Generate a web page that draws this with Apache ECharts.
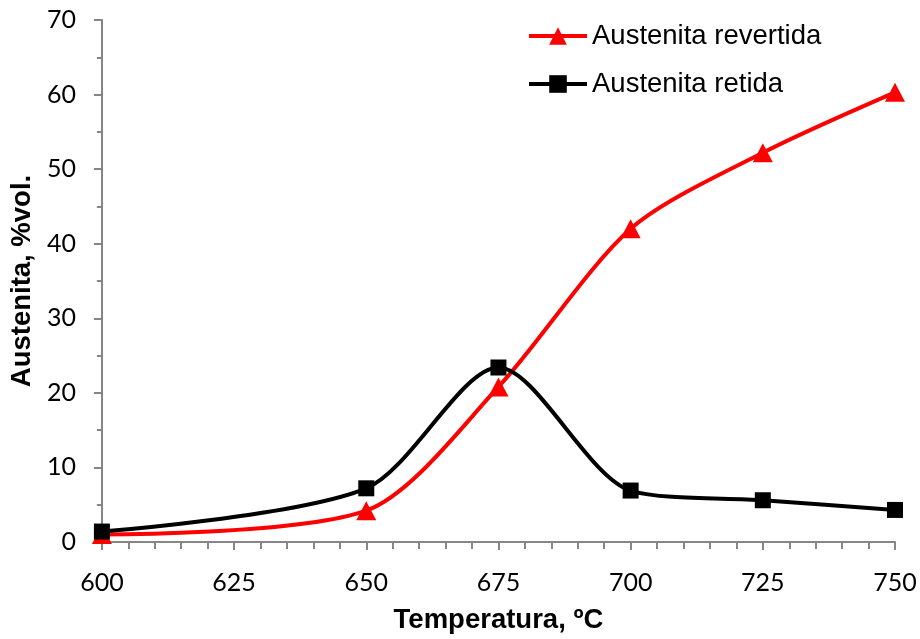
<!DOCTYPE html>
<html>
<head>
<meta charset="utf-8">
<title>Austenita vs Temperatura</title>
<script src="https://cdn.jsdelivr.net/npm/echarts@6/dist/echarts.min.js"></script>
<style>
  html, body { margin: 0; padding: 0; background: #ffffff; }
  #chart { width: 920px; height: 639px; }
</style>
</head>
<body>
<div id="chart"></div>
<script>
// Annealing temperatures (ºC)
var temperaturas = [600, 650, 675, 700, 725, 750];
// Reverted austenite, %vol.
var austenitaRevertida = [1.0, 4.2, 20.8, 42.0, 52.2, 60.3];
// Retained austenite, %vol.
var austenitaRetida = [1.4, 7.2, 23.4, 6.9, 5.6, 4.3];

var xTitle = 'Temperatura, ºC';
var yTitle = 'Austenita, %vol.';
var nomeRevertida = 'Austenita revertida';
var nomeRetida = 'Austenita retida';

function pares(xs, ys) {
  return xs.map(function (x, i) { return [x, ys[i]]; });
}

var axisGray = '#868686';
var tickFont = 'Lato, Calibri, "Open Sans", sans-serif';
var titleFont = '"Liberation Sans", Arial, sans-serif';
var curveSmooth = 0.28;

var chart = echarts.init(document.getElementById('chart'), null, { renderer: 'canvas' });

chart.setOption({
  animation: false,
  backgroundColor: '#ffffff',
  grid: { left: 101, right: 25, top: 20, bottom: 96, containLabel: false },
  legend: {
    left: 527,
    top: 22,
    padding: 0,
    orient: 'vertical',
    itemWidth: 58,
    itemHeight: 22,
    itemGap: 20,
    textStyle: { fontFamily: titleFont, fontSize: 27.5, color: '#000000' },
    data: [
      { name: nomeRevertida, lineStyle: { width: 4 }, itemStyle: { color: '#ff0000' } },
      { name: nomeRetida, lineStyle: { width: 4 }, itemStyle: { color: '#000000' } }
    ]
  },
  xAxis: {
    type: 'value',
    min: 600,
    max: 750,
    interval: 25,
    name: xTitle,
    nameLocation: 'middle',
    nameGap: 64,
    nameTextStyle: { fontFamily: titleFont, fontSize: 27.5, fontWeight: 'bold', color: '#000000' },
    axisLine: { show: true, onZero: false, lineStyle: { color: axisGray, width: 2 } },
    axisTick: { show: true, inside: false, length: 8, lineStyle: { color: axisGray, width: 2 } },
    minorTick: { show: true, splitNumber: 5, length: 7, lineStyle: { color: axisGray, width: 2 } },
    axisLabel: { fontFamily: tickFont, fontSize: 25, color: '#000000', margin: 28 },
    splitLine: { show: false }
  },
  yAxis: {
    type: 'value',
    min: 0,
    max: 70,
    interval: 10,
    name: yTitle,
    nameLocation: 'middle',
    nameGap: 62,
    nameTextStyle: { fontFamily: titleFont, fontSize: 27.5, fontWeight: 'bold', color: '#000000' },
    axisLine: { show: true, lineStyle: { color: axisGray, width: 2 } },
    axisTick: { show: true, inside: false, length: 8, lineStyle: { color: axisGray, width: 2 } },
    minorTick: { show: true, splitNumber: 2, length: 5, lineStyle: { color: axisGray, width: 2 } },
    axisLabel: { fontFamily: tickFont, fontSize: 25, color: '#000000', margin: 26 },
    splitLine: { show: false }
  },
  series: [
    {
      name: nomeRevertida,
      type: 'line',
      data: pares(temperaturas, austenitaRevertida),
      smooth: curveSmooth,
      symbol: 'triangle',
      symbolSize: [20, 19],
      showAllSymbol: true,
      color: '#ff0000',
      lineStyle: { color: '#ff0000', width: 4 },
      itemStyle: { color: '#ff0000', borderWidth: 0 },
      z: 2
    },
    {
      name: nomeRetida,
      type: 'line',
      data: pares(temperaturas, austenitaRetida),
      smooth: curveSmooth,
      symbol: 'rect',
      symbolSize: 16,
      showAllSymbol: true,
      color: '#000000',
      lineStyle: { color: '#000000', width: 4 },
      itemStyle: { color: '#000000', borderWidth: 0 },
      z: 3
    }
  ]
});
</script>
</body>
</html>
